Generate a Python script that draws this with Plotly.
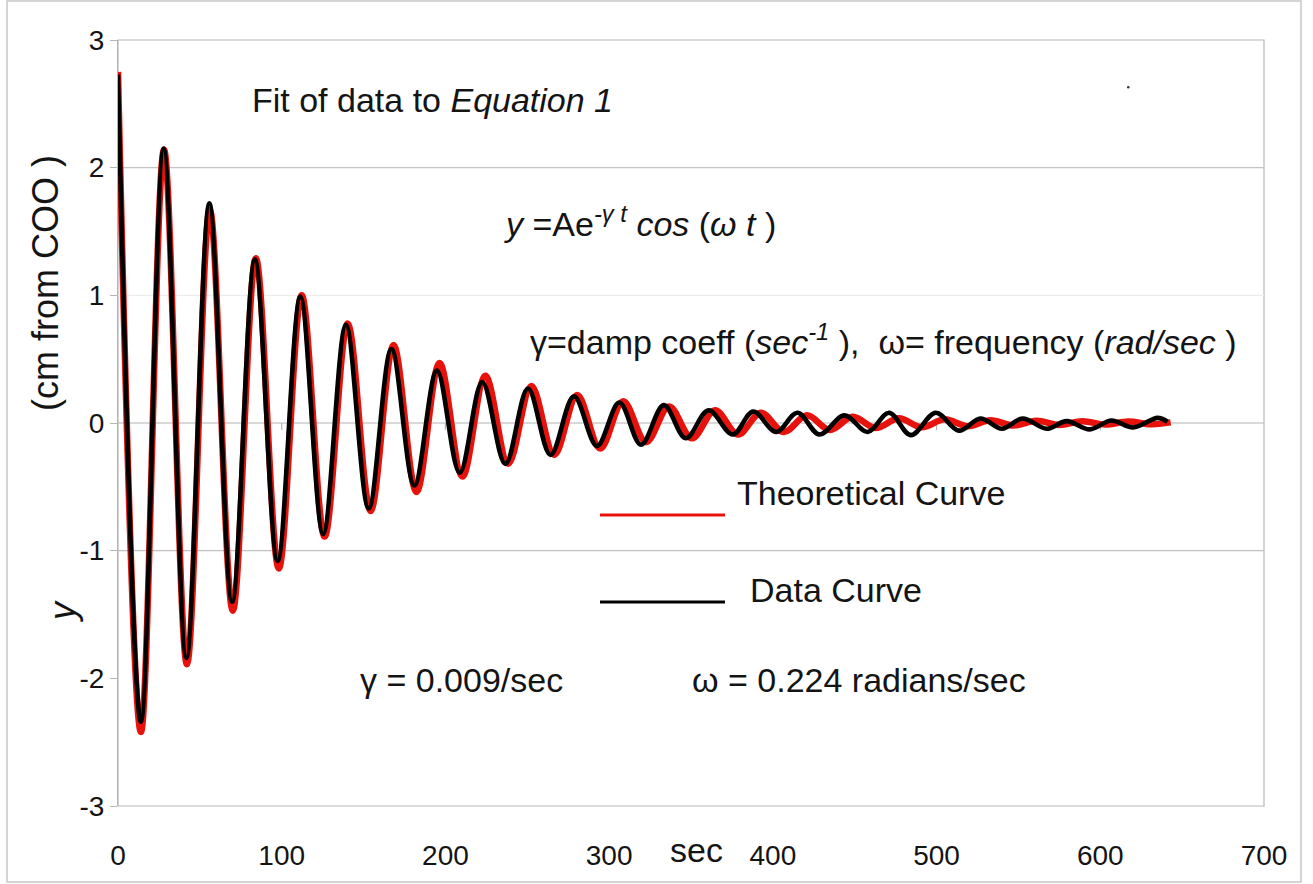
import plotly.graph_objects as go

# ---------------- data ----------------
# Theoretical curve: successive extrema (time in sec, displacement in cm)
theory_t = [0, 14.0, 28.1, 42.1, 56.1, 70.1, 84.2, 98.2, 112.2, 126.2,
            140.3, 154.3, 168.3, 182.3, 196.4, 210.4, 224.4, 238.4, 252.5, 266.5,
            280.5, 294.5, 308.6, 322.6, 336.6, 350.6, 364.7, 378.7, 392.7, 406.7,
            420.8, 434.8, 448.8, 462.8, 476.9, 490.9, 504.9, 518.9, 533.0, 547.0,
            561.0, 575.0, 589.1, 603.1, 617.1, 631.1, 643.0]
theory_y = [2.75, -2.42, 2.14, -1.89, 1.67, -1.47, 1.29, -1.14, 1.00, -0.89,
            0.78, -0.69, 0.61, -0.54, 0.47, -0.42, 0.37, -0.32, 0.29, -0.25,
            0.22, -0.20, 0.17, -0.15, 0.13, -0.12, 0.10, -0.09, 0.08, -0.07,
            0.06, -0.055, 0.048, -0.04, 0.037, -0.033, 0.029, -0.025, 0.022, -0.02,
            0.018, -0.015, 0.014, -0.012, 0.011, -0.01, 0.005]

# Data curve: successive extrema (time in sec, displacement in cm)
data_t = [0, 14.0, 27.9, 41.8, 55.8, 69.7, 83.6, 97.5, 111.4, 125.3,
          139.2, 153.1, 167.0, 181.0, 194.8, 208.7, 222.5, 236.6, 250.4, 264.2,
          278.5, 292.6, 306.2, 319.5, 333.4, 346.8, 360.7, 375.5, 388.0, 402.0,
          415.0, 428.5, 443.7, 457.9, 471.0, 484.3, 499.5, 513.6, 526.8, 540.0,
          552.5, 567.3, 579.4, 593.6, 606.8, 620.0, 635.0, 641.0]
data_y = [2.73, -2.34, 2.15, -1.84, 1.72, -1.40, 1.28, -1.08, 0.99, -0.87,
          0.77, -0.67, 0.58, -0.49, 0.41, -0.39, 0.32, -0.32, 0.27, -0.25,
          0.21, -0.18, 0.16, -0.17, 0.14, -0.12, 0.10, -0.09, 0.09, -0.07,
          0.08, -0.09, 0.06, -0.07, 0.08, -0.095, 0.08, -0.06, 0.035, -0.045,
          0.035, -0.045, 0.015, -0.05, 0.02, -0.035, 0.04, 0.01]

x_tick_vals = [0, 100, 200, 300, 400, 500, 600, 700]
x_tick_labels = ["0", "100", "200", "300", "400", "500", "600", "700"]
y_tick_vals = [-3, -2, -1, 0, 1, 2, 3]
y_tick_labels = ["-3", "-2", "-1", "0", "1", "2", "3"]

# ---------------- layout helpers ----------------
W, H = 1313, 884
L, R, T, B = 118, 49, 40, 78
PW, PH = W - L - R, H - T - B
FONT = "Liberation Sans, Arial, sans-serif"
TXT = "#141414"


def px(x):
    return (x - L) / PW


def py(y):
    return (H - B - y) / PH


fig = go.Figure()
fig.add_trace(go.Scatter(x=theory_t, y=theory_y, mode="lines",
                         line=dict(color="#e8120c", width=6.5, shape="spline", smoothing=1.0),
                         name="Theoretical Curve", hoverinfo="skip"))
fig.add_trace(go.Scatter(x=data_t, y=data_y, mode="lines",
                         line=dict(color="#000000", width=4.6, shape="spline", smoothing=1.0),
                         name="Data Curve", hoverinfo="skip"))

shapes = []
# outer frame of the picture
shapes.append(dict(type="rect", xref="paper", yref="paper",
                   x0=px(7), x1=px(1301), y0=py(882), y1=py(1),
                   line=dict(color="#c8c8c8", width=1.5), layer="below"))
# plot area frame
shapes.append(dict(type="rect", xref="paper", yref="paper", x0=0, x1=1, y0=0, y1=1,
                   line=dict(color="#b8b8b8", width=1.2), layer="below"))
# horizontal gridlines (as they appear in the picture)
for yv, col in [(2, "#c4c4c4"), (1, "#ececec"), (-1, "#c0c0c0")]:
    shapes.append(dict(type="line", xref="paper", yref="y", x0=0, x1=1, y0=yv, y1=yv,
                       line=dict(color=col, width=1.2), layer="below"))
# horizontal axis drawn through zero
shapes.append(dict(type="line", xref="paper", yref="y", x0=0, x1=1, y0=0, y1=0,
                   line=dict(color="#b4b4b4", width=1.2), layer="below"))
for xv in x_tick_vals[1:-1]:
    shapes.append(dict(type="line", xref="x", yref="y", ysizemode="pixel", yanchor=0,
                       x0=xv, x1=xv, y0=0, y1=-7,
                       line=dict(color="#b4b4b4", width=1.2), layer="below"))
# legend sample lines
shapes.append(dict(type="line", xref="paper", yref="paper", x0=px(600), x1=px(725),
                   y0=py(515), y1=py(515), line=dict(color="#e8120c", width=3)))
shapes.append(dict(type="line", xref="paper", yref="paper", x0=px(600), x1=px(725),
                   y0=py(602), y1=py(602), line=dict(color="#000000", width=3)))
# tiny speck
shapes.append(dict(type="circle", xref="paper", yref="paper",
                   x0=px(1127), x1=px(1129.5), y0=py(88.5), y1=py(86),
                   line=dict(width=0), fillcolor="#333333"))

ann = []


def note(text, x, y, size=34, xanchor="left", angle=0):
    ann.append(dict(text=text, xref="paper", yref="paper", x=px(x), y=py(y),
                    xanchor=xanchor, yanchor="middle", showarrow=False, textangle=angle,
                    font=dict(family=FONT, size=size, color=TXT)))


note("Fit of data to <i>Equation 1</i>", 250, 100)
note("<i>y</i> =Ae<sup><i>-\u03b3 t</i></sup> <i>cos</i> (<i>\u03c9 t</i> )", 502, 222)
note("\u03b3=damp coeff (<i>sec</i><sup><i>-1</i></sup> ),\u00a0 \u03c9= frequency (<i>rad/sec</i> )", 528, 340)
note("Theoretical Curve", 735, 493)
note("Data Curve", 748, 590)
note("\u03b3 = 0.009/sec", 358, 680)
note("\u03c9 = 0.224 radians/sec", 690, 680)
note("sec", 668, 850)
note("(cm from COO )", 45, 283, size=36, xanchor="center", angle=-90)
note("<i>y</i>", 62, 612, size=36, xanchor="center", angle=-90)

fig.update_layout(
    width=W, height=H,
    margin=dict(l=L, r=R, t=T, b=B),
    paper_bgcolor="white", plot_bgcolor="white",
    showlegend=False,
    shapes=shapes, annotations=ann,
    xaxis=dict(range=[0, 700], tickvals=x_tick_vals, ticktext=x_tick_labels,
               showgrid=False, zeroline=False, showline=False, ticks="",
               ticklabelstandoff=30,
               tickfont=dict(family=FONT, size=28, color=TXT)),
    yaxis=dict(range=[-3, 3], tickvals=y_tick_vals, ticktext=y_tick_labels,
               showgrid=False, zeroline=False, showline=True, linecolor="#b4b4b4",
               linewidth=1.2, ticks="outside", ticklen=7, tickcolor="#b4b4b4",
               tickfont=dict(family=FONT, size=28, color=TXT)),
)

fig.write_html("out.html")
